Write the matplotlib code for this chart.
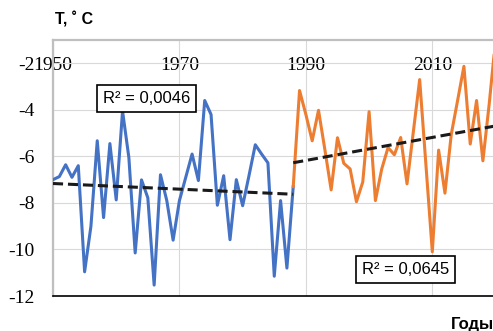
import numpy as np
import matplotlib
matplotlib.use('Agg')
import matplotlib.pyplot as plt

# Anos e temperaturas
anos_1 = list(range(1950, 1989))
temp_1 = [-7.0, -6.87, -6.36, -6.9, -6.4, -10.96, -9.0, -5.33, -8.63, -5.45,
          -7.87, -4.05, -6.05, -10.15, -7.01, -7.78, -11.53, -6.79, -7.9, -9.6,
          -7.9, -6.9, -5.9, -7.04, -3.6, -4.2, -8.1, -6.83, -9.58, -7.0,
          -8.12, -6.83, -5.5, -5.9, -6.28, -11.15, -7.9, -10.8, -7.3]

anos_2 = list(range(1988, 2021))
temp_2 = [-7.3, -3.17, -4.2, -5.33, -4.02, -5.7, -7.44, -5.2, -6.3, -6.54,
          -7.95, -7.1, -4.08, -7.9, -6.54, -5.62, -5.93, -5.19, -7.18, -4.94,
          -2.7, -6.4, -10.1, -5.73, -7.58, -5.05, -3.6, -2.13, -5.47, -3.6,
          -6.19, -3.75, -1.0]

r2_1 = 'R² = 0,0046'
r2_2 = 'R² = 0,0645'

anos_ticks = [1950, 1970, 1990, 2010]
temp_ticks = [-12, -10, -8, -6, -4, -2]

fig = plt.figure(figsize=(4.93, 3.31), dpi=100)
ax = fig.add_axes([0.1075, 0.1057, 0.8925, 0.7734])

# Grade
ax.set_xticks(anos_ticks)
ax.set_yticks(temp_ticks)
ax.grid(True, color='#d9d9d9', linewidth=0.8)
ax.set_axisbelow(True)

# Series
ax.plot(anos_1, temp_1, color='#4472C4', linewidth=2.2, zorder=3)
ax.plot(anos_2, temp_2, color='#ED7D31', linewidth=2.2, zorder=3)

# Linhas de tendencia
for anos, temp in [(anos_1, temp_1), (anos_2, temp_2)]:
    a, b = np.polyfit(anos, temp, 1)
    x = np.array([anos[0], anos[-1]])
    ax.plot(x, a * x + b, color='#1a1a1a', linewidth=2.2, dashes=(3.3, 1.6), zorder=4)

caixa = dict(boxstyle='square,pad=0.35', facecolor='white', edgecolor='black', linewidth=1.2)
ax.text(1964.85, -3.5, r2_1, ha='center', va='center', fontsize=12,
        family='Liberation Sans', bbox=caixa, zorder=5)
ax.text(2005.7, -10.86, r2_2, ha='center', va='center', fontsize=12,
        family='Liberation Sans', bbox=caixa, zorder=5)

ax.set_xlim(1950, 2019.6)
ax.set_ylim(-12, -1)

# Eixos
ax.spines['right'].set_visible(False)
ax.spines['top'].set_color('#bfbfbf')
ax.spines['top'].set_linewidth(1.6)
ax.spines['left'].set_color('#bfbfbf')
ax.spines['left'].set_linewidth(1.6)
ax.spines['bottom'].set_color('black')
ax.spines['bottom'].set_linewidth(1.2)

ax.tick_params(axis='x', length=0, top=False, bottom=False, labeltop=True, labelbottom=False,
               pad=-24.5, labelsize=14)
ax.tick_params(axis='y', length=0, pad=13, labelsize=14)
for lab in ax.get_xticklabels() + ax.get_yticklabels():
    lab.set_family('Liberation Serif')
ax.set_yticklabels([str(t) for t in temp_ticks])

fig.text(55 / 493, 1 - 19 / 331, 'T, ˚ C', fontsize=11.5, fontweight='bold',
         family='Liberation Sans', ha='left', va='center')
fig.text(451 / 493, 1 - 329 / 331, 'Годы', fontsize=12, fontweight='bold',
         family='Liberation Sans', ha='left', va='baseline')

plt.savefig('out.png', dpi=100)
